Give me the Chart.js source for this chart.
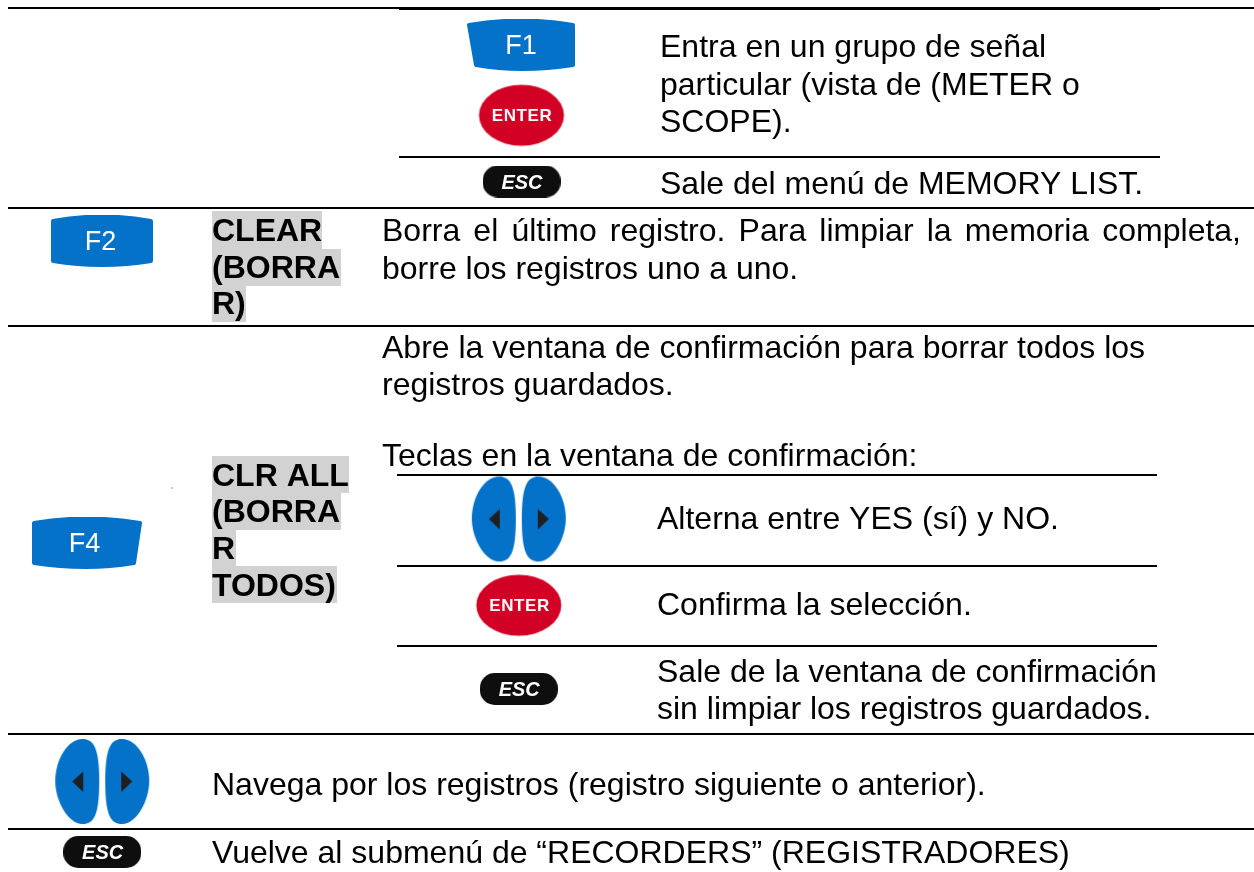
<!DOCTYPE html>
<html>
<head>
<meta charset="utf-8">
<style>
html, body { margin: 0; padding: 0; background: #fff; }
canvas { display: block; }
</style>
<script src="https://cdn.jsdelivr.net/npm/chart.js@4"></script>
</head>
<body>
<canvas id="myChart" width="1254" height="872"></canvas>
<script>
// texto normal de la tabla
const textLines = [
    'Entra en un grupo de señal', 'particular (vista de (METER o', 'SCOPE).',
    'Sale del menú de MEMORY LIST.',
    'Borra el último registro. Para limpiar la memoria completa,', 'borre los registros uno a uno.',
    'Abre la ventana de confirmación para borrar todos los', 'registros guardados.',
    'Teclas en la ventana de confirmación:',
    'Alterna entre YES (sí) y NO.',
    'Confirma la selección.',
    'Sale de la ventana de confirmación', 'sin limpiar los registros guardados.',
    'Navega por los registros (registro siguiente o anterior).',
    'Vuelve al submenú de “RECORDERS” (REGISTRADORES)'
];
const textX = [660, 660, 660, 660, 382, 382, 382, 382, 382, 657, 657, 657, 657, 212, 212];
const textY = [57, 95, 132, 194, 241, 279, 358, 395, 466, 529, 615, 682, 719, 795, 863];
const justifiedLine = 4;
const justifiedEnd = 1241;

// etiquetas en negrita con fondo gris
const boldLines = ['CLEAR', '(BORRA', 'R)', 'CLR ALL', '(BORRA', 'R', 'TODOS)'];
const boldY = [241, 278, 314, 486, 522, 559, 596];
const boldTop = [211, 249, 286, 456, 493, 530, 566];
const boldBottom = [249, 286, 322, 493, 530, 566, 603];
const boldRight = [322, 341, 246, 349, 341, 236, 337];

// reglas horizontales
const ruleY = [8, 8.5, 157, 208, 326, 475, 566, 646, 734, 829];
const ruleStart = [8, 399, 399, 8, 8, 397, 397, 397, 8, 8];
const ruleEnd = [1254, 1160, 1160, 1254, 1254, 1157, 1157, 1157, 1254, 1254];
const ruleWidth = [2, 3, 2, 2, 2, 2, 2, 2, 2, 2];

// teclas
const enterKeys = [[521.5, 115.3], [518.8, 605.3]];
const escKeys = [[521.6, 181.5], [518.8, 689], [102.2, 852]];
const arrowKeys = [[518.8, 519], [102.2, 781.5]];
const f1Key = [[521, 45]];
const f2Key = [[102, 241]];
const f4Key = [[87, 543]];
const speckKey = [[172, 488]];
const keyLabels = ['F1', 'F2', 'F4', 'ENTER', 'ENTER', 'ESC', 'ESC', 'ESC'];
const keyLabelX = [521, 100.5, 84.5, 522, 519.5, 522, 519.2, 102.6];
const keyLabelY = [46.5, 242.5, 545, 116, 606, 183, 690.5, 853.5];

const BLUE = '#0472c8';
const RED = '#d10024';

function makeShape(w, h, paint) {
    const c = document.createElement('canvas');
    c.width = w;
    c.height = h;
    paint(c.getContext('2d'), w, h);
    return c;
}

// tecla de función; slant inclina el lado izquierdo (F1) o derecho (F4)
function softKey(w, h, slantL, slantR) {
    return makeShape(w, h, (g) => {
        g.fillStyle = BLUE;
        g.beginPath();
        g.moveTo(2, 6);
        g.quadraticCurveTo(w / 2, -3, w - 2, 6);
        g.lineTo(w - 2 - slantR, h - 6);
        g.quadraticCurveTo(w / 2, h + 2, 2 + slantL, h - 6);
        g.closePath();
        g.lineJoin = 'round';
        g.lineWidth = 4;
        g.strokeStyle = BLUE;
        g.stroke();
        g.fill();
    });
}

function enterShape() {
    return makeShape(88, 64, (g) => {
        g.fillStyle = RED;
        g.beginPath();
        g.ellipse(44, 32, 42.5, 30.5, 0, 0, Math.PI * 2);
        g.fill();
    });
}

function escShape() {
    return makeShape(78, 32, (g) => {
        g.fillStyle = '#0e0e0e';
        g.beginPath();
        g.roundRect(0, 0, 78, 32, 15);
        g.fill();
    });
}

function arrowShape() {
    return makeShape(98, 89, (g) => {
        const lobe = () => {
            g.fillStyle = BLUE;
            g.beginPath();
            g.moveTo(27, 0);
            g.bezierCurveTo(13, 0, 0, 20, 0, 42);
            g.bezierCurveTo(0, 62, 13, 85, 27, 85);
            g.bezierCurveTo(39, 85, 44, 76, 44, 42);
            g.bezierCurveTo(44, 10, 39, 0, 27, 0);
            g.fill();
            g.fillStyle = '#1f1f1f';
            g.beginPath();
            g.moveTo(17, 42.5);
            g.lineTo(28, 32.5);
            g.lineTo(28, 53);
            g.closePath();
            g.fill();
        };
        g.save();
        g.translate(2, 2);
        lobe();
        g.restore();
        g.translate(96, 2);
        g.scale(-1, 1);
        lobe();
    });
}

function speckShape() {
    return makeShape(2, 2, (g) => {
        g.fillStyle = '#c4c4c4';
        g.fillRect(0, 0, 2, 2);
    });
}

function toPoints(list) {
    return list.map(p => ({x: p[0], y: p[1]}));
}

function getRuleDatasets() {
    return ruleY.map((y, idx) => ({
        data: [{x: ruleStart[idx], y: y}, {x: ruleEnd[idx], y: y}],
        showLine: true,
        borderColor: '#000',
        borderWidth: ruleWidth[idx],
        pointRadius: 0,
        clip: false
    }));
}

function getKeyDataset(list, shape) {
    return {data: toPoints(list), pointStyle: shape, pointRadius: 10, showLine: false};
}

const tablePlugin = {
    id: 'tablePlugin',
    // fondos grises antes de las reglas y teclas
    beforeDatasetsDraw(chart) {
        const {ctx, scales} = chart;
        ctx.save();
        ctx.fillStyle = '#d2d2d2';
        boldLines.forEach((t, i) => {
            const x0 = scales.x.getPixelForValue(212);
            const x1 = scales.x.getPixelForValue(boldRight[i]);
            const y0 = scales.y.getPixelForValue(boldTop[i]);
            const y1 = scales.y.getPixelForValue(boldBottom[i]);
            ctx.fillRect(x0, y0, x1 - x0, y1 - y0);
        });
        ctx.restore();
    },
    afterDatasetsDraw(chart) {
        const {ctx, scales} = chart;
        ctx.save();
        ctx.fillStyle = '#000';
        ctx.textBaseline = 'alphabetic';
        ctx.textAlign = 'left';

        ctx.font = '32px "Liberation Sans"';
        textLines.forEach((t, i) => {
            const x = scales.x.getPixelForValue(textX[i]);
            const y = scales.y.getPixelForValue(textY[i]);
            if (i === justifiedLine) {
                const words = t.split(' ');
                const used = words.reduce((s, w) => s + ctx.measureText(w).width, 0);
                const gap = (justifiedEnd - textX[i] - used) / (words.length - 1);
                let px = x;
                words.forEach(w => {
                    ctx.fillText(w, px, y);
                    px += ctx.measureText(w).width + gap;
                });
            } else {
                ctx.fillText(t, x, y);
            }
        });

        ctx.font = 'bold 32px "Liberation Sans"';
        boldLines.forEach((t, i) => {
            ctx.fillText(t, scales.x.getPixelForValue(212), scales.y.getPixelForValue(boldY[i]));
        });

        ctx.textAlign = 'center';
        ctx.textBaseline = 'middle';
        ctx.fillStyle = '#fff';
        keyLabels.forEach((t, i) => {
            if (t === 'ENTER') {
                ctx.font = 'bold 17px "Liberation Sans"';
                ctx.letterSpacing = '0.6px';
            } else if (t === 'ESC') {
                ctx.font = 'italic bold 20px "Liberation Sans"';
                ctx.letterSpacing = '0px';
            } else {
                ctx.font = '27px "Liberation Sans"';
                ctx.letterSpacing = '0px';
            }
            ctx.fillText(t, scales.x.getPixelForValue(keyLabelX[i]), scales.y.getPixelForValue(keyLabelY[i]));
        });
        ctx.restore();
    }
};

function drawChart() {
    const ctx = document.getElementById('myChart');
    new Chart(ctx, {
        type: 'scatter',
        data: {
            datasets: [
                ...getRuleDatasets(),
                getKeyDataset(f1Key, softKey(108, 52, 7, 0)),
                getKeyDataset(f2Key, softKey(102, 52, 0, 0)),
                getKeyDataset(f4Key, softKey(110, 52, 0, 6)),
                getKeyDataset(enterKeys, enterShape()),
                getKeyDataset(escKeys, escShape()),
                getKeyDataset(arrowKeys, arrowShape()),
                getKeyDataset(speckKey, speckShape())
            ]
        },
        options: {
            responsive: false,
            animation: false,
            layout: {padding: 0, autoPadding: false},
            plugins: {legend: {display: false}, tooltip: {enabled: false}, title: {display: false}},
            scales: {
                x: {type: 'linear', min: 0, max: 1254, display: false},
                y: {type: 'linear', min: 0, max: 872, reverse: true, display: false}
            }
        },
        plugins: [tablePlugin]
    });
}

window.addEventListener('load', evt => drawChart());
</script>
</body>
</html>
